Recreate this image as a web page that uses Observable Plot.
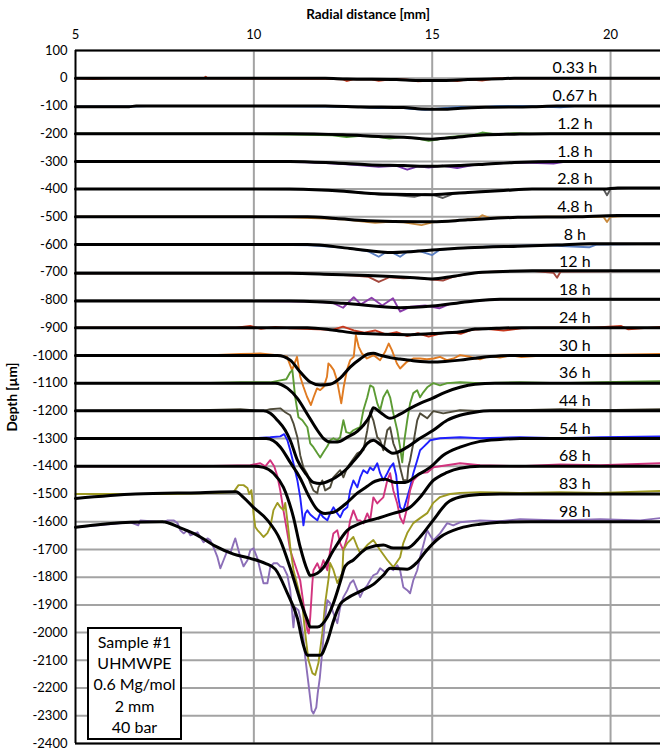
<!DOCTYPE html>
<html>
<head>
<meta charset="utf-8">
<script src="https://cdn.jsdelivr.net/npm/d3@7"></script>
<script src="https://cdn.jsdelivr.net/npm/@observablehq/plot@0.6"></script>
<style>
  html, body { margin: 0; padding: 0; background: white; }
  #wrap { position: relative; width: 660px; height: 752px; font-family: Lato, "Open Sans", sans-serif; }
  #wrap svg { display: block; }
  g[aria-label="y-axis label"] text, g[aria-label="x-axis label"] text { font-weight: bold !important; font-size: 13.5px !important; }
  #note {
    position: absolute; left: 87px; top: 627px; width: 91px; height: 107px;
    border: 2px solid black; background: white; text-align: center;
    font-family: Lato, sans-serif; font-size: 16px; line-height: 21.2px; padding-top: 2px; box-sizing: content-box;
  }
</style>
</head>
<body>
<div id="wrap"><div id="note">Sample #1<br>UHMWPE<br>0.6 Mg/mol<br>2 mm<br>40 bar</div></div>
<script>
// ---- categories / ticks ----
const labels  = ["0.33 h","0.67 h","1.2 h","1.8 h","2.8 h","4.8 h","8 h","12 h","18 h","24 h","30 h","36 h","44 h","54 h","68 h","83 h","98 h"];
const offsets = [0,-100,-200,-300,-400,-500,-600,-700,-800,-900,-1000,-1100,-1200,-1300,-1400,-1500,-1600];
const colors  = ["#D64527","#4A7CC9","#4F9A33","#7434A8","#5A5A5A","#C98B3E","#5B7FC2","#A4473C","#8A3DAA","#C8391E","#E07B22","#5C9B34","#4F4B3A","#1F1FFF","#D2337E","#9E9A22","#8C6FB8"];
const xTicks  = [5,10,15,20];
const xGrid   = [10,15,20];
const yTicks  = [100,0,-100,-200,-300,-400,-500,-600,-700,-800,-900,-1000,-1100,-1200,-1300,-1400,-1500,-1600,-1700,-1800,-1900,-2000,-2100,-2200,-2300,-2400];
const labelX  = 19.0;

// ---- measured profiles: [radial distance mm, depth µm relative to the profile's offset] ----
const raw_h0_33 = [[5,0],[5.5,-3],[6,0],[8.6,0],[8.65,5],[8.7,0],[12,-2],[12.5,-4],[12.6,-10],[12.8,-3],[13.3,-4],[13.5,-9],[13.9,-3],[14.3,-5],[14.6,-11],[15,-8],[15.4,-6],[15.7,-10],[16,-4],[16.4,-8],[16.7,-2],[17.2,0],[21.4,0]];
const raw_h0_67 = [[5,-3],[6.5,-2],[7,0],[10,0],[12,-2],[13,-4],[13.5,-8],[14,-5],[14.4,-10],[14.8,-14],[15,-12],[15.3,-8],[15.8,-4],[16.2,-6],[16.8,-1],[17.5,0],[18.2,-3],[18.6,-5],[19,0],[21.4,0]];
const raw_h1_2  = [[5,0],[9,0],[10.5,-2],[11.5,-4],[12.2,-6],[12.6,-12],[13,-8],[13.5,-12],[13.8,-18],[14.2,-12],[14.6,-18],[14.9,-26],[15.1,-22],[15.5,-12],[15.8,-8],[16.2,-4],[16.4,4],[16.8,-3],[17.3,2],[17.8,0],[19.5,0],[21.4,0]];
const raw_h1_8  = [[5,0],[10,0],[11.5,-3],[12,-6],[12.5,-10],[13,-14],[13.5,-20],[14,-16],[14.3,-30],[14.6,-18],[14.9,-22],[15.3,-16],[15.7,-24],[16.1,-14],[16.5,-10],[17,-6],[17.5,-4],[18.4,-8],[18.8,0],[21.4,0]];
const raw_h2_8  = [[5,0],[10,0],[11.5,-2],[12.5,-6],[13,-12],[13.5,-20],[14,-22],[14.5,-28],[14.8,-18],[15,-20],[15.3,-32],[15.6,-16],[16,-12],[16.5,-8],[17,-4],[17.8,0],[19.8,0],[19.9,-22],[20,0],[20.5,4],[21.4,4]];
const raw_h4_8  = [[5,0],[10,0],[11,-2],[12,-6],[12.6,-10],[13,-16],[13.4,-22],[13.8,-18],[14.2,-20],[14.7,-30],[15,-20],[15.4,-16],[15.8,-12],[16.3,-4],[16.4,6],[16.6,-4],[17.2,-2],[18,0],[19.8,0],[19.9,-19],[20,0],[20.6,5],[21.4,5]];
const raw_h8    = [[5,0],[10,0],[11.6,-3],[12.2,-8],[12.7,-14],[13.2,-24],[13.5,-44],[13.7,-28],[13.9,-30],[14.1,-44],[14.3,-26],[14.6,-22],[15,-38],[15.2,-20],[15.6,-14],[16,-12],[16.5,-8],[17,-6],[17.5,-4],[18,-2],[19.4,-10],[19.6,0],[21.4,3]];
const raw_h12   = [[5,-4],[10,-4],[11.6,-5],[12.2,-8],[12.8,-12],[13.2,-16],[13.5,-35],[13.8,-18],[14.2,-22],[14.6,-20],[15,-26],[15.3,-30],[15.6,-16],[16,-6],[16.4,0],[17,4],[17.8,5],[18.4,-2],[18.5,-20],[18.6,3],[21.4,5]];
const raw_h18   = [[5,-4],[10,-4],[11.5,-6],[12.2,-10],[12.5,-28],[12.8,10],[13,-16],[13.3,8],[13.6,-20],[13.9,6],[14.1,-42],[14.4,-24],[14.8,-20],[15.2,-30],[15.5,-14],[16,-6],[16.5,0],[17,3],[18,3],[19.2,3],[21.4,3]];
const raw_h24   = [[5,0],[9.5,0],[9.9,6],[10.2,-4],[10.6,3],[11,-2],[11.6,-5],[12.2,-8],[12.5,4],[12.8,-10],[13.1,-18],[13.4,-10],[13.7,-24],[14,-16],[14.3,-30],[14.6,-20],[14.9,-32],[15.2,-22],[15.5,-16],[15.8,-22],[16.1,-8],[16.5,-4],[17,-10],[17.5,-2],[18,0],[19.5,0],[20.3,6],[20.5,-6],[21.4,3]];
const raw_h30   = [[5,0],[8.5,-1],[9.62,5],[10.18,7],[10.65,1],[10.93,-5],[11.07,-53],[11.21,-5],[11.3,-77],[11.39,-113],[11.49,-149],[11.6,-179],[11.68,-149],[11.77,-119],[11.86,-125],[11.96,-113],[12.05,-77],[12.09,-29],[12.14,-35],[12.24,-53],[12.33,-89],[12.45,-173],[12.52,-113],[12.61,-53],[12.7,-17],[12.8,-5],[12.86,73],[12.94,31],[13.03,7],[13.17,-11],[13.26,-5],[13.36,1],[13.54,-17],[13.68,13],[13.78,43],[13.87,19],[14.01,-29],[14.1,-47],[14.29,-23],[14.48,-11],[14.66,-11],[14.85,-14],[15.04,-11],[15.22,-5],[15.41,-17],[15.6,-11],[15.78,1],[16.06,-5],[16.34,-14],[16.6,-2],[16.9,-8],[17.2,0],[17.5,-6],[18,-1],[19,0],[20.2,3],[21.4,5]];
const raw_h36   = [[5,0],[8.5,0],[9.62,3],[10.46,3],[10.74,10],[10.91,14],[11.02,39],[11.08,47],[11.16,-51],[11.25,-123],[11.36,-134],[11.5,-159],[11.58,-217],[11.67,-231],[11.78,-253],[11.86,-268],[11.95,-249],[12.06,-228],[12.14,-206],[12.23,-199],[12.34,-206],[12.42,-195],[12.51,-134],[12.59,-177],[12.7,-181],[12.79,-170],[12.9,-163],[12.98,-159],[13.07,-98],[13.18,-51],[13.26,-8],[13.35,-15],[13.46,-73],[13.54,-98],[13.63,-51],[13.74,-26],[13.82,-51],[13.91,-109],[14.02,-170],[14.1,-231],[14.16,-286],[14.22,-206],[14.3,-134],[14.38,-73],[14.47,-36],[14.58,-26],[14.66,-51],[14.75,-33],[14.86,-15],[15.03,0],[15.22,-8],[15.42,0],[15.78,3],[16.34,0],[17.46,3],[18.59,0],[19.71,3],[21.39,7]];
const raw_h44   = [[5,0],[8.5,2],[9.62,6],[10.24,-1],[10.46,6],[10.74,9],[10.88,-5],[11.02,-16],[11.11,-45],[11.22,-95],[11.3,-160],[11.39,-204],[11.5,-229],[11.58,-261],[11.67,-287],[11.78,-297],[11.81,-276],[11.92,-251],[12.0,-287],[12.14,-276],[12.23,-240],[12.42,-214],[12.51,-240],[12.62,-204],[12.7,-189],[12.9,-153],[13.07,-142],[13.18,-70],[13.26,-5],[13.35,-34],[13.46,-95],[13.54,-106],[13.63,-142],[13.74,-70],[13.82,-59],[13.91,-117],[14.02,-153],[14.1,-204],[14.19,-250],[14.3,-250],[14.33,-204],[14.38,-178],[14.47,-117],[14.58,-34],[14.66,-9],[14.86,-27],[15.03,-1],[15.31,-9],[15.78,2],[16.34,-1],[17.46,2],[18.59,6],[19.71,2],[21.39,6]];
const raw_h54   = [[5,0],[8.5,1],[9.9,1],[10.46,5],[10.74,8],[10.85,16],[10.94,-6],[11.02,-42],[11.11,-89],[11.22,-151],[11.3,-212],[11.36,-277],[11.39,-313],[11.44,-270],[11.5,-259],[11.58,-274],[11.67,-284],[11.78,-295],[11.86,-270],[11.95,-284],[12.06,-295],[12.14,-270],[12.23,-248],[12.34,-270],[12.42,-284],[12.51,-259],[12.62,-248],[12.7,-187],[12.79,-151],[12.9,-176],[12.98,-140],[13.07,-114],[13.18,-125],[13.26,-104],[13.35,-114],[13.46,-89],[13.54,-125],[13.63,-151],[13.74,-125],[13.82,-104],[13.91,-89],[13.99,-132],[14.05,-212],[14.1,-248],[14.19,-259],[14.3,-212],[14.38,-176],[14.47,-125],[14.58,-78],[14.66,-42],[14.75,-31],[14.86,-17],[14.94,-6],[15.22,1],[15.78,5],[16.34,1],[17.46,5],[18.59,1],[19.71,5],[21.39,8]];
const raw_h68   = [[5,0],[8.5,0],[9.9,4],[10.18,11],[10.32,0],[10.46,22],[10.57,0],[10.66,-36],[10.74,-87],[10.83,-159],[10.94,-242],[11.02,-303],[11.16,-357],[11.3,-412],[11.39,-495],[11.5,-592],[11.54,-603],[11.58,-545],[11.64,-422],[11.67,-375],[11.78,-350],[11.86,-375],[11.95,-339],[12.06,-375],[12.14,-303],[12.23,-242],[12.34,-231],[12.42,-278],[12.51,-303],[12.62,-256],[12.7,-195],[12.79,-159],[12.9,-195],[12.98,-195],[13.07,-206],[13.18,-170],[13.26,-195],[13.35,-112],[13.46,-134],[13.54,-123],[13.63,-112],[13.74,-51],[13.82,-25],[13.91,-87],[14.02,-134],[14.1,-184],[14.19,-206],[14.3,-148],[14.38,-87],[14.47,-51],[14.66,-25],[14.86,-22],[15.03,-4],[15.22,0],[15.78,11],[16.34,4],[17.46,0],[18.59,7],[19.71,4],[21.39,11]];
const raw_h83   = [[5,0],[7.66,0],[9.06,4],[9.43,7],[9.57,32],[9.71,32],[9.82,22],[9.87,0],[9.93,14],[9.96,-22],[9.99,-69],[10.04,-119],[10.1,-130],[10.18,-141],[10.27,-155],[10.38,-141],[10.46,-119],[10.55,-58],[10.66,-32],[10.74,-47],[10.83,-58],[10.88,-32],[10.97,-130],[11.02,-191],[11.11,-274],[11.22,-329],[11.36,-401],[11.44,-502],[11.53,-599],[11.64,-646],[11.72,-653],[11.81,-610],[11.92,-502],[12.0,-394],[12.09,-310],[12.14,-249],[12.23,-274],[12.34,-321],[12.48,-285],[12.51,-202],[12.62,-177],[12.79,-155],[12.9,-191],[12.98,-213],[13.18,-184],[13.35,-166],[13.54,-202],[13.74,-238],[13.91,-264],[14.1,-228],[14.19,-177],[14.3,-141],[14.47,-105],[14.66,-87],[14.86,-69],[15.03,-32],[15.22,-11],[15.5,0],[15.78,4],[16.34,7],[17.46,4],[18.59,7],[19.71,4],[21.39,11]];
const raw_h98   = [[5,-20],[6.54,-2],[6.76,-13],[6.82,5],[7.46,-2],[7.58,5],[7.75,5],[7.86,-5],[7.94,-31],[8.03,-42],[8.14,-31],[8.22,-49],[8.42,-38],[8.5,-56],[8.59,-74],[8.7,-60],[8.78,-67],[8.87,-92],[8.98,-128],[9.06,-168],[9.15,-139],[9.26,-103],[9.34,-114],[9.43,-78],[9.48,-60],[9.57,-103],[9.62,-128],[9.71,-161],[9.82,-139],[9.9,-103],[9.99,-96],[10.1,-132],[10.18,-175],[10.27,-222],[10.38,-222],[10.46,-164],[10.55,-150],[10.66,-150],[10.74,-161],[10.83,-164],[10.94,-193],[11.02,-247],[11.11,-381],[11.16,-309],[11.25,-319],[11.3,-345],[11.39,-417],[11.44,-489],[11.53,-583],[11.62,-681],[11.67,-692],[11.75,-670],[11.79,-619],[11.85,-562],[11.92,-464],[12.0,-345],[12.06,-283],[12.14,-294],[12.23,-330],[12.34,-366],[12.42,-309],[12.51,-272],[12.62,-247],[12.7,-222],[12.79,-211],[12.9,-247],[12.98,-272],[13.07,-247],[13.18,-229],[13.26,-211],[13.35,-193],[13.46,-186],[13.54,-168],[13.68,-182],[13.82,-168],[13.91,-175],[14.02,-157],[14.1,-175],[14.19,-236],[14.3,-247],[14.38,-258],[14.47,-211],[14.58,-175],[14.66,-128],[14.75,-85],[14.86,-31],[14.94,-49],[15.03,-67],[15.22,-42],[15.42,-5],[15.59,-13],[15.78,-2],[16.34,5],[16.9,2],[17.46,9],[18.59,5],[19.71,9],[20.83,5],[21.39,13]];

// ---- smoothed (black) profiles ----
const fit_h0_33 = [[5,0],[12,0],[12.6,-3],[14,-5],[14.6,-8],[15.3,-8],[16,-5],[16.9,-2],[17.3,0],[21.4,0]];
const fit_h0_67 = [[5,-3],[6.5,-3],[6.7,0],[12,0],[13,-4],[14.2,-6],[14.7,-11],[15.3,-12],[15.8,-8],[16.5,-5],[17.8,-3],[18.5,0],[21.4,0]];
const fit_h1_2  = [[5,0],[11,0],[12.5,-4],[13.5,-10],[14.3,-14],[15,-20],[15.5,-15],[16.4,-5],[17.3,-2],[18.3,0],[21.4,0]];
const fit_h1_8  = [[5,0],[11,0],[12.3,-6],[13.2,-12],[14.2,-15],[15,-18],[15.8,-15],[16.4,-11],[17.3,-4],[18.6,0],[21.4,0]];
const fit_h2_8  = [[5,0],[11,0],[12.3,-6],[13.6,-18],[15,-20],[16,-12],[17,-5],[17.8,0],[19.8,0],[20.2,4],[21.4,4]];
const fit_h4_8  = [[5,0],[11.5,0],[12.3,-6],[13.2,-14],[14.6,-18],[15,-18],[16,-11],[17.4,-2],[19,0],[20.2,5],[21.4,5]];
const fit_h8    = [[5,0],[11.5,0],[12.7,-14],[13.9,-29],[15,-20],[16,-12],[17.4,-6],[18.5,-2],[19.4,3],[21.4,3]];
const fit_h12   = [[5,-4],[11,-4],[12.2,-8],[13.2,-12],[14.5,-20],[15,-24],[15.6,-14],[16.4,0],[17.8,5],[21.4,5]];
const fit_h18   = [[5,-4],[11,-4],[12.5,-12],[14.1,-28],[15,-22],[16,-6],[16.9,3],[21.4,3]];
const fit_h24   = [[5,0],[11.5,0],[12.2,-8],[12.9,-20],[14.3,-25],[15,-21],[15.8,-15],[16.2,-5],[16.8,-2],[17.5,0],[21.4,0]];
const fit_h30   = [[5,0],[10.66,0],[11.02,-17],[11.3,-60],[11.58,-96],[11.86,-107],[12.14,-104],[12.42,-82],[12.7,-42],[12.98,-13],[13.2,5],[13.35,8],[13.54,1],[13.82,-8],[14.1,-13],[14.52,-20],[15,-24],[15.36,-22],[15.78,-17],[16.2,-10],[16.62,-4],[17.2,0],[21.4,0]];
const fit_h36   = [[5,0],[10.6,0],[10.94,-18],[11.22,-55],[11.5,-112],[11.78,-170],[11.95,-199],[12.14,-212],[12.34,-212],[12.62,-195],[12.9,-174],[13.07,-152],[13.26,-116],[13.35,-89],[13.54,-105],[13.82,-127],[14.1,-112],[14.38,-91],[14.66,-73],[15,-55],[15.36,-33],[15.78,-15],[16.2,-4],[16.76,0],[21.4,0]];
const fit_h44   = [[5,0],[10.27,0],[10.46,-9],[10.66,-34],[10.88,-70],[11.02,-106],[11.22,-178],[11.47,-229],[11.67,-258],[11.86,-262],[12.14,-251],[12.42,-229],[12.62,-207],[12.79,-182],[12.98,-153],[13.18,-117],[13.35,-106],[13.54,-121],[13.9,-153],[14.3,-131],[14.66,-99],[15.03,-70],[15.42,-34],[15.78,-16],[16.2,-5],[16.62,0],[21.4,0]];
const fit_h54   = [[5,0],[10.35,0],[10.74,-30],[11.02,-86],[11.3,-143],[11.53,-205],[11.75,-252],[12.0,-270],[12.23,-266],[12.56,-237],[12.9,-197],[13.18,-172],[13.4,-154],[13.68,-147],[13.96,-158],[14.24,-158],[14.58,-132],[14.94,-104],[15.31,-60],[15.78,-31],[16.34,-10],[16.9,-3],[17.46,0],[21.4,0]];
const fit_h68   = [[5,0],[9.99,0],[10.27,-4],[10.55,-25],[10.83,-76],[11.11,-184],[11.3,-292],[11.5,-375],[11.58,-394],[11.78,-386],[11.95,-365],[12.23,-303],[12.62,-231],[12.98,-206],[13.46,-188],[13.91,-170],[14.38,-148],[14.66,-112],[15.03,-51],[15.42,-22],[15.78,-7],[16.34,0],[21.4,0]];
const fit_h83   = [[5,-16],[6.68,0],[8.5,5],[9.5,8],[9.7,-11],[9.98,-47],[10.38,-94],[10.74,-166],[11.02,-267],[11.3,-383],[11.5,-455],[11.58,-480],[11.78,-480],[12.06,-444],[12.23,-394],[12.42,-318],[12.56,-260],[12.79,-238],[13.18,-195],[13.63,-184],[13.91,-195],[14.3,-195],[14.66,-155],[15.03,-94],[15.42,-32],[15.78,-11],[16.34,-2],[16.9,0],[21.4,0]];
const fit_h98   = [[5,-20],[6.54,-2],[7.44,0],[7.94,-22],[8.42,-49],[8.92,-88],[9.43,-117],[9.9,-132],[10.32,-150],[10.6,-171],[10.94,-258],[11.22,-348],[11.39,-446],[11.5,-482],[11.86,-482],[12.06,-431],[12.23,-359],[12.42,-298],[12.62,-276],[12.98,-251],[13.35,-226],[13.63,-193],[13.82,-168],[14.3,-171],[14.58,-146],[14.8,-110],[15.22,-56],[15.78,-23],[16.34,-9],[16.9,-2],[17.75,0],[21.4,0]];

// ---- assemble tables ----
const rawSets = [raw_h0_33,raw_h0_67,raw_h1_2,raw_h1_8,raw_h2_8,raw_h4_8,raw_h8,raw_h12,raw_h18,raw_h24,raw_h30,raw_h36,raw_h44,raw_h54,raw_h68,raw_h83,raw_h98];
const fitSets = [fit_h0_33,fit_h0_67,fit_h1_2,fit_h1_8,fit_h2_8,fit_h4_8,fit_h8,fit_h12,fit_h18,fit_h24,fit_h30,fit_h36,fit_h44,fit_h54,fit_h68,fit_h83,fit_h98];
const toRows = sets => sets.flatMap((pts, i) => pts.map(([x, r]) => ({series: labels[i], x, depth: r + offsets[i]})));
const rawRows = toRows(rawSets);
const fitRows = toRows(fitSets);
const labelRows = labels.map((label, i) => ({label, x: labelX, depth: offsets[i]}));

const chart = Plot.plot({
  width: 660, height: 752,
  marginLeft: 75, marginRight: 0, marginTop: 50, marginBottom: 9,
  style: {fontFamily: "Lato, 'Open Sans', sans-serif", fontSize: "13px", color: "black", background: "white", overflow: "visible"},
  x: {domain: [5, 21.4]},
  y: {domain: [-2400, 100]},
  color: {domain: labels, range: colors},
  marks: [
    Plot.ruleY(yTicks, {stroke: "#a3a3a3", strokeWidth: 2}),
    Plot.ruleX(xGrid, {stroke: "#a3a3a3", strokeWidth: 2}),
    Plot.line(rawRows, {x: "x", y: "depth", z: "series", stroke: "series", strokeWidth: 1.9}),
    Plot.line(fitRows, {x: "x", y: "depth", z: "series", stroke: "black", strokeWidth: 3, curve: "monotone-x"}),
    Plot.text(labelRows, {x: "x", y: "depth", text: "label", dy: -10, fontSize: 16, fill: "black"}),
    Plot.ruleY([100, -2400], {stroke: "black", strokeWidth: 2}),
    Plot.ruleX([5], {stroke: "black", strokeWidth: 2}),
    Plot.axisX({anchor: "top", ticks: xTicks, tickSize: 0, tickPadding: 12, label: "Radial distance [mm]", labelAnchor: "center", labelArrow: "none", labelOffset: 41}),
    Plot.axisY({ticks: yTicks, tickSize: 0, tickPadding: 8, tickFormat: d => String(d), label: "Depth [µm]", labelAnchor: "center", labelArrow: "none", labelOffset: 68})
  ]
});
document.getElementById("wrap").prepend(chart);
</script>
</body>
</html>
